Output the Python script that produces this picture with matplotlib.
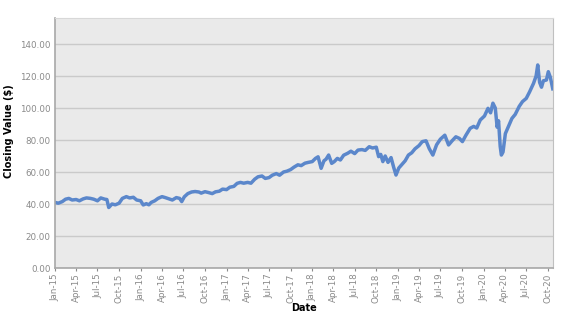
import matplotlib
matplotlib.use("Agg")
import matplotlib.pyplot as plt
import matplotlib.dates as mdates
import pandas as pd

dates = [
    "2015-01-01", "2015-01-15", "2015-02-01", "2015-02-15", "2015-03-01", "2015-03-15",
    "2015-04-01", "2015-04-15", "2015-05-01", "2015-05-15", "2015-06-01", "2015-06-15",
    "2015-07-01", "2015-07-15", "2015-08-01", "2015-08-10", "2015-08-18", "2015-09-01",
    "2015-09-15", "2015-10-01", "2015-10-15", "2015-11-01", "2015-11-15", "2015-12-01",
    "2015-12-15",
    "2016-01-01", "2016-01-12", "2016-01-25", "2016-02-05", "2016-02-15", "2016-03-01",
    "2016-03-15", "2016-04-01", "2016-04-15", "2016-05-01", "2016-05-15", "2016-06-01",
    "2016-06-15", "2016-06-24", "2016-07-05", "2016-07-20", "2016-08-05", "2016-08-20",
    "2016-09-05", "2016-09-15", "2016-10-01", "2016-10-15", "2016-11-01", "2016-11-15",
    "2016-12-01", "2016-12-15",
    "2017-01-01", "2017-01-15", "2017-02-01", "2017-02-15", "2017-03-01", "2017-03-15",
    "2017-04-01", "2017-04-15", "2017-05-01", "2017-05-15", "2017-06-01", "2017-06-15",
    "2017-07-01", "2017-07-15", "2017-08-01", "2017-08-15", "2017-09-01", "2017-09-15",
    "2017-10-01", "2017-10-15", "2017-11-01", "2017-11-15", "2017-12-01", "2017-12-15",
    "2018-01-01", "2018-01-15", "2018-01-26", "2018-02-08", "2018-02-20", "2018-03-01",
    "2018-03-12", "2018-03-25", "2018-04-05", "2018-04-18", "2018-05-01", "2018-05-15",
    "2018-06-01", "2018-06-15", "2018-07-01", "2018-07-15", "2018-08-01", "2018-08-15",
    "2018-09-01", "2018-09-15", "2018-10-01", "2018-10-11", "2018-10-20", "2018-10-29",
    "2018-11-08", "2018-11-20", "2018-12-03", "2018-12-14", "2018-12-24",
    "2019-01-05", "2019-01-20", "2019-02-01", "2019-02-15", "2019-03-01", "2019-03-15",
    "2019-04-01", "2019-04-15", "2019-05-01", "2019-05-15", "2019-05-30", "2019-06-15",
    "2019-07-01", "2019-07-20", "2019-08-05", "2019-08-20", "2019-09-05", "2019-09-20",
    "2019-10-03", "2019-10-18", "2019-11-05", "2019-11-20", "2019-12-03", "2019-12-18",
    "2020-01-05", "2020-01-20", "2020-01-31", "2020-02-10", "2020-02-20", "2020-02-28",
    "2020-03-05", "2020-03-12", "2020-03-17", "2020-03-24", "2020-04-03", "2020-04-15",
    "2020-05-01", "2020-05-15", "2020-06-01", "2020-06-15", "2020-07-01", "2020-07-15",
    "2020-08-01", "2020-08-12", "2020-08-19", "2020-08-27", "2020-09-04", "2020-09-12",
    "2020-09-25", "2020-10-03", "2020-10-12", "2020-10-22",
]

closing = [
    41.0, 40.5, 41.5, 43.0, 43.5, 42.5,
    42.8, 42.0, 43.2, 43.8, 43.5, 43.0,
    42.0, 43.8, 43.0, 42.8, 37.8, 40.0,
    39.5, 40.5, 43.5, 44.6, 43.8, 44.2,
    42.5,
    42.0, 39.4, 40.2, 39.5, 41.0, 42.0,
    43.5, 44.6, 44.0, 43.2, 42.5, 44.0,
    43.5, 41.5, 44.5, 46.5, 47.5, 47.8,
    47.5, 46.8, 47.7, 47.2, 46.5, 47.6,
    48.0, 49.3,
    49.0, 50.5, 51.0, 52.9, 53.5, 53.0,
    53.5, 53.0, 55.5, 57.0, 57.5, 56.0,
    56.5, 58.0, 59.0, 58.0, 60.0, 60.5,
    61.5, 63.0, 64.5, 64.0, 65.5, 66.0,
    66.5, 68.5, 69.5, 62.3, 67.0, 68.0,
    70.6, 65.4, 66.5, 68.5, 67.5, 70.5,
    71.7, 73.0, 71.5, 73.7, 74.0, 73.5,
    75.8, 75.0, 75.5, 69.6, 71.0, 66.5,
    70.0, 66.0, 69.0, 63.0, 58.1,
    62.5, 65.0, 67.0, 70.6, 72.0, 74.5,
    76.5, 79.0, 79.5, 74.5, 70.6, 77.0,
    80.5, 83.0, 76.9, 79.5, 82.0, 81.0,
    79.0, 83.0, 87.3, 88.5, 87.5, 92.5,
    95.0, 99.8, 97.0, 103.0, 100.0, 88.0,
    92.0, 76.0, 70.6, 72.5, 84.0, 88.0,
    93.5, 96.0, 101.0, 104.0, 106.0, 110.0,
    115.4, 120.0, 126.9, 116.0, 113.0, 117.0,
    117.5, 122.7, 119.0, 112.0,
]

yticks = [0, 20, 40, 60, 80, 100, 120, 140]

x = pd.to_datetime(dates)

fig = plt.figure(figsize=(5.69, 3.22), dpi=100)
ax = fig.add_axes([55 / 569, 1 - 268 / 322, (553 - 55) / 569, (268 - 18) / 322])
ax.set_facecolor("#EAEAEA")

ax.plot(x, closing, color="#5B87CB", linewidth=2.5, solid_joinstyle="round")

ax.set_ylim(0, 156.25)
ax.set_xlim(pd.Timestamp("2015-01-01"), pd.Timestamp("2020-10-23"))
ax.set_yticks(yticks)
ax.set_yticklabels([f"{v:.2f}" for v in yticks])
ax.yaxis.grid(True, color="#CACACA", linewidth=1.0)
ax.set_axisbelow(True)

ax.xaxis.set_major_locator(mdates.MonthLocator(bymonth=[1, 4, 7, 10]))
ax.xaxis.set_major_formatter(mdates.DateFormatter("%b-%y"))
for lab in ax.get_xticklabels():
    lab.set_rotation(90)

ax.tick_params(axis="both", labelsize=6.3, colors="#8A8A8A", labelcolor="#8A8A8A")
ax.tick_params(axis="y", length=0, pad=3)
ax.tick_params(axis="x", length=2, pad=2)

for side in ["left", "bottom"]:
    ax.spines[side].set_color("#A8A8A8")
    ax.spines[side].set_linewidth(1.2)
ax.spines["right"].set_color("#C0C0C0")
ax.spines["top"].set_color("#D8D8D8")

ax.set_ylabel("Closing Value ($)", fontsize=7, fontweight="bold", color="black")
ax.yaxis.set_label_coords(-0.082, 0.548)
ax.set_xlabel("Date", fontsize=7, fontweight="bold", color="black", labelpad=0)

fig.savefig("out.png", dpi=100)
